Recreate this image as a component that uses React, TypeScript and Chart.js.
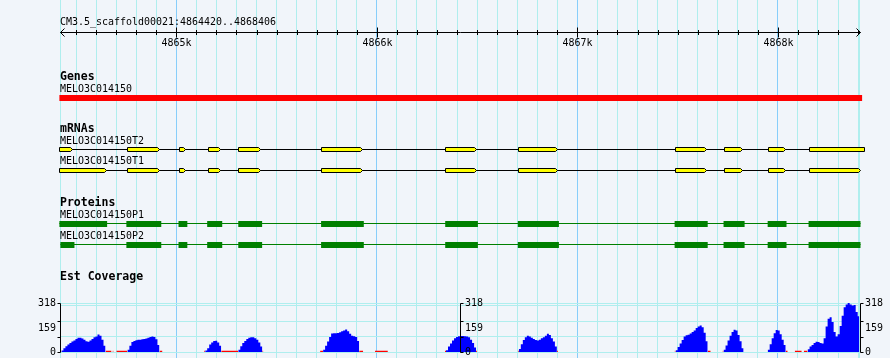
import React, { useEffect, useRef } from 'react';
import { Chart, registerables } from 'chart.js';

Chart.register(...registerables);

// ---------- data ----------
const REGION_START = 4864420;
const REGION_END = 4868406;
const REGION_LABEL = 'CM3.5_scaffold00021:4864420..4868406';
const RULER_MAJOR = [4865000, 4866000, 4867000, 4868000];
const RULER_LABELS = ['4865k', '4866k', '4867k', '4868k'];
const RULER_STEP = 100;

const SECTION_TITLES = ['Genes', 'mRNAs', 'Proteins', 'Est Coverage'];

const GENE_NAME = 'MELO3C014150';
const GENE_SPAN = [4864417, 4868420];

const MRNA_NAMES = ['MELO3C014150T2', 'MELO3C014150T1'];
const MRNA_SPANS = [
  [4864417, 4868430],
  [4864417, 4868408],
];
const T2_EXONS = [
  [4864417, 4864482], [4864754, 4864915], [4865013, 4865045], [4865156, 4865219],
  [4865310, 4865418], [4865722, 4865926], [4866341, 4866494], [4866705, 4866899],
  [4867487, 4867643], [4867731, 4867823], [4867950, 4868033], [4868154, 4868430],
];
const T1_EXONS = [
  [4864417, 4864648], [4864754, 4864915], [4865013, 4865045], [4865156, 4865219],
  [4865310, 4865418], [4865722, 4865926], [4866341, 4866494], [4866705, 4866899],
  [4867487, 4867643], [4867731, 4867823], [4867950, 4868033], [4868154, 4868408],
];

const PROTEIN_NAMES = ['MELO3C014150P1', 'MELO3C014150P2'];
const PROTEIN_SPANS = [
  [4864417, 4868412],
  [4864422, 4868412],
];
const P1_CDS = [
  [4864417, 4864655], [4864751, 4864925], [4865011, 4865055], [4865154, 4865229],
  [4865309, 4865428], [4865722, 4865935], [4866341, 4866504], [4866703, 4866908],
  [4867485, 4867650], [4867729, 4867834], [4867949, 4868043], [4868153, 4868412],
];
const P2_CDS = [
  [4864422, 4864492], [4864751, 4864925], [4865011, 4865055], [4865154, 4865229],
  [4865309, 4865428], [4865722, 4865935], [4866341, 4866504], [4866703, 4866908],
  [4867485, 4867650], [4867729, 4867834], [4867949, 4868043], [4868153, 4868412],
];

// EST coverage: blocks of 10-bp bins
const COV_MAX = 318;
const COV_TICK_VALUES = [0, 100, 200, 318];
const COV_GRID_VALUES = [0, 100, 200, 300, 318];
const COV_LABEL_VALUES = [318, 159, 0];
const COV_LABELS = ['318', '159', '0'];
const COV_STEP = 10;
const COV_BLOCK_STARTS = [
  4864427, 4864756, 4865144, 4865309, 4865732, 4866345,
  4866708, 4867490, 4867729, 4867949, 4868148,
];
const COV_BLOCK_VALUES = [
  [10, 25, 38, 48, 58, 68, 75, 85, 93, 92, 88, 80, 70, 66, 75, 85, 95, 100, 113, 105, 80, 40],
  [15, 40, 65, 72, 77, 80, 80, 82, 85, 87, 92, 98, 101, 98, 82, 45],
  [10, 25, 48, 62, 72, 73, 62, 40],
  [15, 38, 58, 72, 84, 92, 95, 95, 90, 80, 62, 35],
  [15, 40, 68, 98, 120, 122, 122, 124, 128, 135, 140, 146, 135, 118, 105, 102, 98, 72],
  [12, 35, 55, 75, 90, 98, 102, 104, 104, 103, 100, 95, 80, 58, 30],
  [20, 50, 78, 95, 105, 100, 92, 84, 78, 75, 80, 90, 96, 105, 118, 110, 90, 68, 35],
  [12, 32, 55, 78, 100, 108, 112, 120, 130, 140, 155, 165, 172, 160, 125, 70],
  [15, 42, 75, 105, 130, 145, 140, 110, 70, 25],
  [15, 50, 90, 122, 142, 140, 115, 80, 45],
  [18, 35, 45, 58, 66, 65, 58, 55, 90, 165, 215, 225, 195, 130, 100, 115, 168, 235, 290, 308, 318, 308, 302, 305, 260, 232],
];
const LOW_VALUE = 8;
const LOW_SEGMENTS = [
  [4864420, 4864427], [4864647, 4864677], [4864682, 4864687], [4864701, 4864756],
  [4864916, 4864931], [4865139, 4865144], [4865224, 4865309], [4865429, 4865434],
  [4865717, 4865732], [4865912, 4865932], [4865991, 4866055], [4866340, 4866345],
  [4866495, 4866500], [4866703, 4866708], [4866898, 4866903], [4867485, 4867490],
  [4867650, 4867665], [4867724, 4867729], [4868039, 4868049], [4868084, 4868119],
  [4868129, 4868148],
];

// ---------- layout / style ----------
const W = 890;
const H = 358;
const BG = '#f1f5fa';
const GRID_MINOR = '#afeeee';
const GRID_MAJOR = '#87cefa';
const FONT = '11px "DejaVu Sans Mono", monospace';
const FONT_SCALE_X = 0.906;
const FONT_BOLD = 'bold 11.5px "DejaVu Sans Mono", monospace';
const COV_TOP_PX = 303;
const COV_BASE_PX = 352;
const covRange = (COV_MAX * H) / (COV_BASE_PX - COV_TOP_PX);
const covMaxAxis = (COV_BASE_PX * covRange) / H;
const covMinAxis = covMaxAxis - covRange;

const ROW = {
  title: 25, rulerLine: 32.5, rulerLabel: 46,
  genesTitle: 80, geneLabel: 92, geneBar: 98,
  mrnaTitle: 132, mrnaLabels: [144, 164], mrnaLines: [149.5, 170.5],
  protTitle: 206, protLabels: [218, 239], protLines: [223.5, 244.5], protBoxes: [224, 245],
  covTitle: 280,
};

function segs(list: number[][], y: number) {
  const out: any[] = [];
  list.forEach(([s, e]) => {
    out.push({ x: s, y }, { x: e, y }, { x: e, y: null });
  });
  return out;
}

function buildCoverage() {
  const pts: any[] = [];
  COV_BLOCK_STARTS.forEach((s, b) => {
    const vals = COV_BLOCK_VALUES[b];
    vals.forEach((v, i) => pts.push({ x: s + i * COV_STEP, y: v }));
    const end = s + vals.length * COV_STEP;
    pts.push({ x: end, y: vals[vals.length - 1] });
    pts.push({ x: end, y: null });
  });
  return pts;
}

function gridTicks() {
  const t: number[] = [REGION_START];
  for (let v = Math.ceil(REGION_START / RULER_STEP) * RULER_STEP; v < REGION_END; v += RULER_STEP) t.push(v);
  t.push(REGION_END);
  return t;
}

// narrow monospace text (GD-like 6px cells)
function text(ctx: CanvasRenderingContext2D, s: string, x: number, y: number, align: CanvasTextAlign) {
  ctx.save();
  ctx.font = FONT;
  ctx.textAlign = align;
  ctx.scale(FONT_SCALE_X, 1);
  ctx.fillText(s, x / FONT_SCALE_X, y);
  ctx.restore();
}

const trackPlugin = {
  id: 'gbrowseTracks',
  beforeDraw(chart: any) {
    const ctx = chart.ctx;
    ctx.save();
    ctx.fillStyle = BG;
    ctx.fillRect(0, 0, chart.width, chart.height);
    ctx.restore();
  },
  afterDatasetsDraw(chart: any) {
    const ctx = chart.ctx;
    const xs = chart.scales.x;
    const yc = chart.scales.yCov;
    const px = (v: number) => Math.round(xs.getPixelForValue(v)) + 0.5;
    ctx.save();
    ctx.fillStyle = '#000';
    ctx.strokeStyle = '#000';
    ctx.lineWidth = 1;
    ctx.textBaseline = 'alphabetic';

    // ruler
    const L = px(REGION_START);
    const R = Math.ceil(xs.getPixelForValue(REGION_END)) + 0.5;
    const ry = ROW.rulerLine;
    text(ctx, REGION_LABEL, 60, ROW.title, 'left');
    ctx.beginPath();
    ctx.moveTo(L, ry); ctx.lineTo(R, ry);
    ctx.moveTo(L + 4, ry - 4); ctx.lineTo(L, ry); ctx.lineTo(L + 4, ry + 4);
    ctx.moveTo(R - 4, ry - 4); ctx.lineTo(R, ry); ctx.lineTo(R - 4, ry + 4);
    xs.ticks.forEach((t: any) => {
      if (t.value === REGION_START || t.value === REGION_END) return;
      const x = px(t.value);
      const major = RULER_MAJOR.includes(t.value);
      ctx.moveTo(x, major ? ry - 5 : ry - 2.5);
      ctx.lineTo(x, major ? ry + 5 : ry + 2.5);
    });
    ctx.stroke();
    RULER_MAJOR.forEach((v, i) => text(ctx, RULER_LABELS[i], px(v), ROW.rulerLabel, 'center'));

    // section titles
    ctx.textAlign = 'left';
    ctx.font = FONT_BOLD;
    [ROW.genesTitle, ROW.mrnaTitle, ROW.protTitle, ROW.covTitle].forEach((y, i) =>
      ctx.fillText(SECTION_TITLES[i], 60, y));
    text(ctx, GENE_NAME, 60, ROW.geneLabel, 'left');
    MRNA_NAMES.forEach((n, i) => text(ctx, n, 60, ROW.mrnaLabels[i], 'left'));
    PROTEIN_NAMES.forEach((n, i) => text(ctx, n, 60, ROW.protLabels[i], 'left'));

    // exons
    [T2_EXONS, T1_EXONS].forEach((exons, i) => {
      const cy = ROW.mrnaLines[i];
      exons.forEach(([s, e]) => {
        const a = px(s);
        const ee = px(e);
        const clipped = e > REGION_END + 10;
        const tip = clipped ? 0 : 2;
        const b = ee - tip;
        ctx.beginPath();
        ctx.moveTo(a, cy - 2);
        ctx.lineTo(b, cy - 2);
        if (tip) ctx.lineTo(ee, cy); else ctx.lineTo(b, cy + 2);
        ctx.lineTo(b, cy + 2);
        ctx.lineTo(a, cy + 2);
        ctx.closePath();
        ctx.fillStyle = '#ffff00';
        ctx.fill();
        ctx.strokeStyle = '#000';
        ctx.stroke();
      });
    });

    // coverage axes
    ctx.fillStyle = '#000';
    ctx.strokeStyle = '#000';
    const mid = (REGION_START + REGION_END) / 2;
    const axes = [
      { x: L, dir: -1 },
      { x: px(mid), dir: 1 },
      { x: R, dir: 1 },
    ];
    const top = Math.round(yc.getPixelForValue(COV_MAX)) + 0.5;
    const base = Math.round(yc.getPixelForValue(0)) + 0.5;
    ctx.textBaseline = 'middle';
    axes.forEach(({ x, dir }) => {
      ctx.beginPath();
      ctx.moveTo(x, top); ctx.lineTo(x, base);
      COV_TICK_VALUES.forEach((v) => {
        const y = Math.round(yc.getPixelForValue(v)) + 0.5;
        ctx.moveTo(x, y); ctx.lineTo(x + dir * 3, y);
      });
      ctx.stroke();
      COV_LABEL_VALUES.forEach((v, i) => {
        const y = yc.getPixelForValue(v) + 0.5;
        text(ctx, COV_LABELS[i], x + dir * 4.5, y, dir < 0 ? 'right' : 'left');
      });
    });
    ctx.restore();
  },
};

export default function App() {
  const ref = useRef<HTMLCanvasElement>(null);
  useEffect(() => {
    document.body.style.margin = '0';
    const ticks = gridTicks();
    const line = (data: any[], color: string, width: number, order: number) => ({
      type: 'line',
      data,
      xAxisID: 'x',
      yAxisID: 'yTrack',
      borderColor: color,
      borderWidth: width,
      borderCapStyle: 'butt',
      pointRadius: 0,
      fill: false,
      spanGaps: false,
      clip: false,
      order,
    });
    const datasets: any[] = [
      line([{ x: GENE_SPAN[0], y: ROW.geneBar }, { x: GENE_SPAN[1], y: ROW.geneBar }], '#ff0000', 6, 1),
      ...MRNA_SPANS.map((sp, i) =>
        line([{ x: sp[0], y: ROW.mrnaLines[i] }, { x: sp[1], y: ROW.mrnaLines[i] }], '#000000', 1, 5)),
      ...PROTEIN_SPANS.map((sp, i) =>
        line([{ x: sp[0], y: ROW.protLines[i] }, { x: sp[1], y: ROW.protLines[i] }], '#008000', 1, 5)),
      line(segs(P1_CDS, ROW.protBoxes[0]), '#008000', 6, 1),
      line(segs(P2_CDS, ROW.protBoxes[1]), '#008000', 6, 1),
      {
        type: 'line',
        data: buildCoverage(),
        xAxisID: 'x',
        yAxisID: 'yCov',
        borderColor: 'rgba(0,0,0,0)',
        borderWidth: 1,
        backgroundColor: '#0000ff',
        fill: 'origin',
        stepped: true,
        pointRadius: 0,
        spanGaps: false,
        order: 2,
      },
      {
        type: 'line',
        data: segs(LOW_SEGMENTS, LOW_VALUE),
        xAxisID: 'x',
        yAxisID: 'yCov',
        borderColor: 'rgba(0,0,0,0)',
        borderWidth: 1,
        backgroundColor: '#ff0000',
        fill: 'origin',
        pointRadius: 0,
        spanGaps: false,
        order: 3,
      },
    ];
    const chart = new Chart(ref.current as HTMLCanvasElement, {
      type: 'line',
      data: { datasets },
      options: {
        animation: false,
        responsive: false,
        devicePixelRatio: 1,
        events: [],
        layout: { padding: { left: 60, right: 30.7, top: 0, bottom: 0 } },
        plugins: { legend: { display: false }, tooltip: { enabled: false }, title: { display: false } },
        scales: {
          x: {
            type: 'linear',
            position: 'bottom',
            min: REGION_START,
            max: REGION_END,
            ticks: { display: false },
            border: { display: false },
            grid: {
              drawTicks: false,
              lineWidth: 1,
              color: (c: any) => (c.tick && RULER_MAJOR.includes(c.tick.value) ? GRID_MAJOR : GRID_MINOR),
            },
            afterBuildTicks: (s: any) => { s.ticks = ticks.map((v) => ({ value: v })); },
          },
          yTrack: { type: 'linear', min: 0, max: H, reverse: true, display: false },
          yCov: {
            type: 'linear',
            position: 'left',
            min: covMinAxis,
            max: covMaxAxis,
            ticks: { display: false },
            border: { display: false },
            grid: { drawTicks: false, color: GRID_MINOR, lineWidth: 1 },
            afterBuildTicks: (s: any) => { s.ticks = COV_GRID_VALUES.map((v) => ({ value: v })); },
          },
        },
      } as any,
      plugins: [trackPlugin],
    } as any);
    return () => chart.destroy();
  }, []);
  return (
    <div style={{ position: 'absolute', left: 0, top: 0, width: W, height: H, background: BG }}>
      <canvas ref={ref} width={W} height={H} style={{ display: 'block', width: W, height: H }} />
    </div>
  );
}
